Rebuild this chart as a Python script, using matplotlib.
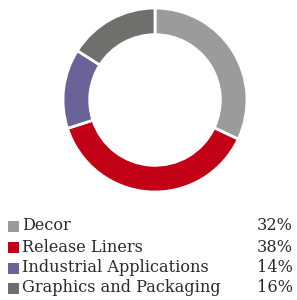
import matplotlib.pyplot as plt
from matplotlib.patches import Rectangle

labels = ['Decor', 'Release Liners', 'Industrial Applications', 'Graphics and Packaging']
shares = [32, 38, 14, 16]
colors = ['#9b9b9b', '#c20016', '#6a6398', '#6f6f6d']

W, H = 297, 300
fig = plt.figure(figsize=(W / 100, H / 100), dpi=100)

# donut: centre (155, 100) px, radius 92 px
cx, cy, r = 155, 100, 92
ax = fig.add_axes([(cx - r) / W, 1 - (cy + r) / H, 2 * r / W, 2 * r / H])
ax.pie(shares, colors=colors, startangle=90, counterclock=False, radius=1,
       wedgeprops=dict(width=0.29, edgecolor='white', linewidth=2))
ax.set_xlim(-1, 1)
ax.set_ylim(-1, 1)
ax.set_aspect('auto')
ax.axis('off')

row_y = [226, 247, 268, 288]
for lab, val, col, y in zip(labels, shares, colors, row_y):
    fig.patches.append(Rectangle((8 / W, 1 - (y + 5.5) / H), 11 / W, 11 / H,
                                 facecolor=col, transform=fig.transFigure, figure=fig))
    fig.text(22 / W, 1 - y / H, lab, ha='left', va='center',
             fontsize=11.6, family='DejaVu Serif', color='#2a2a2a')
    fig.text(293 / W, 1 - y / H, f'{val}%', ha='right', va='center',
             fontsize=11.6, family='DejaVu Serif', color='#2a2a2a')

fig.savefig('out.png', dpi=100)
